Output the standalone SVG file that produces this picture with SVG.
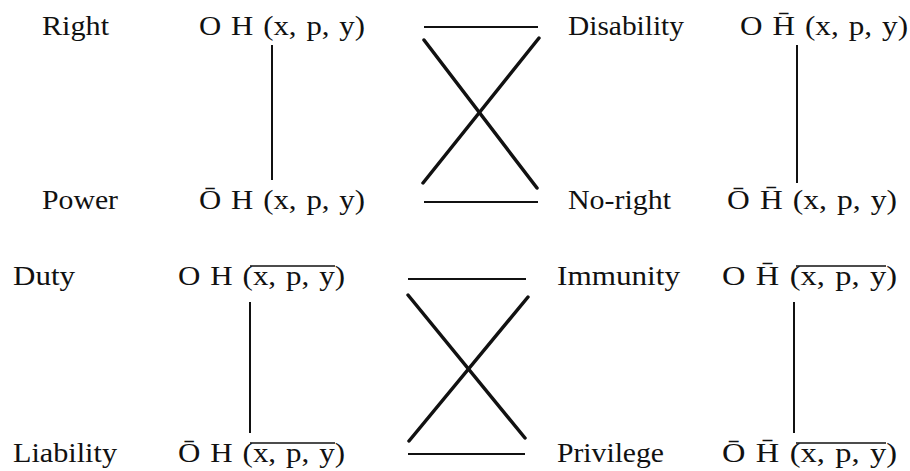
<svg xmlns="http://www.w3.org/2000/svg" width="910" height="471" viewBox="0 0 910 471">
<style>
  text { font-family: "Liberation Serif", "Times New Roman", serif; font-size: 28px; fill: #111; }
  .f { word-spacing: 2px; }
  .ln { stroke: #111; stroke-width: 2; fill: none; }
  .x { stroke: #111; stroke-width: 3.5; fill: none; stroke-linecap: round; }
  .ov { stroke: #111; stroke-width: 1.6; fill: none; }
</style>
<rect width="910" height="471" fill="#fff"/>
<g id="connectors">
  <line class="ln" x1="424" y1="27" x2="538" y2="27"/>
  <line class="x" x1="424" y1="40" x2="537" y2="188"/>
  <line class="x" x1="539" y1="38" x2="423" y2="183"/>
  <line class="ln" x1="424" y1="202" x2="538" y2="202"/>
  <line class="ln" x1="408" y1="279" x2="526" y2="279"/>
  <line class="x" x1="408" y1="295" x2="525" y2="438"/>
  <line class="x" x1="528" y1="297" x2="409" y2="441"/>
  <line class="ln" x1="408" y1="454" x2="525" y2="454"/>
  <line class="ln" x1="272" y1="45" x2="272" y2="180"/>
  <line class="ln" x1="797" y1="45" x2="797" y2="183"/>
  <line class="ln" x1="250" y1="302" x2="250" y2="433"/>
  <line class="ln" x1="794" y1="302" x2="794" y2="433"/>
</g>
<g id="right">
  <text x="42" y="35" textLength="67" lengthAdjust="spacingAndGlyphs">Right</text>
  <text class="f" x="199" y="35" textLength="166" lengthAdjust="spacingAndGlyphs">O H (x, p, y)</text>
</g>
<g id="power">
  <text x="42" y="209" textLength="76" lengthAdjust="spacingAndGlyphs">Power</text>
  <text class="f" x="199" y="209" textLength="166" lengthAdjust="spacingAndGlyphs">Ō H (x, p, y)</text>
</g>
<g id="disability">
  <text x="568" y="35" textLength="116" lengthAdjust="spacingAndGlyphs">Disability</text>
  <text class="f" x="740" y="35" textLength="168" lengthAdjust="spacingAndGlyphs">O H̄ (x, p, y)</text>
</g>
<g id="no-right">
  <text x="568" y="209" textLength="103" lengthAdjust="spacingAndGlyphs">No-right</text>
  <text class="f" x="727" y="209" textLength="170" lengthAdjust="spacingAndGlyphs">Ō H̄ (x, p, y)</text>
</g>
<g id="duty">
  <text x="13" y="285" textLength="62" lengthAdjust="spacingAndGlyphs">Duty</text>
  <text class="f" x="178" y="285" textLength="167" lengthAdjust="spacingAndGlyphs">O H (x, p, y)</text>
  <line class="ov" x1="250" y1="266" x2="335" y2="266"/>
</g>
<g id="liability">
  <text x="13" y="462" textLength="104" lengthAdjust="spacingAndGlyphs">Liability</text>
  <text class="f" x="178" y="462" textLength="167" lengthAdjust="spacingAndGlyphs">Ō H (x, p, y)</text>
  <line class="ov" x1="250" y1="443" x2="335" y2="443"/>
</g>
<g id="immunity">
  <text x="557" y="285" textLength="123" lengthAdjust="spacingAndGlyphs">Immunity</text>
  <text class="f" x="722" y="285" textLength="175" lengthAdjust="spacingAndGlyphs">O H̄ (x, p, y)</text>
  <line class="ov" x1="796" y1="266" x2="886" y2="266"/>
</g>
<g id="privilege">
  <text x="557" y="462" textLength="107" lengthAdjust="spacingAndGlyphs">Privilege</text>
  <text class="f" x="722" y="462" textLength="175" lengthAdjust="spacingAndGlyphs">Ō H̄ (x, p, y)</text>
  <line class="ov" x1="796" y1="443" x2="886" y2="443"/>
</g>
</svg>
